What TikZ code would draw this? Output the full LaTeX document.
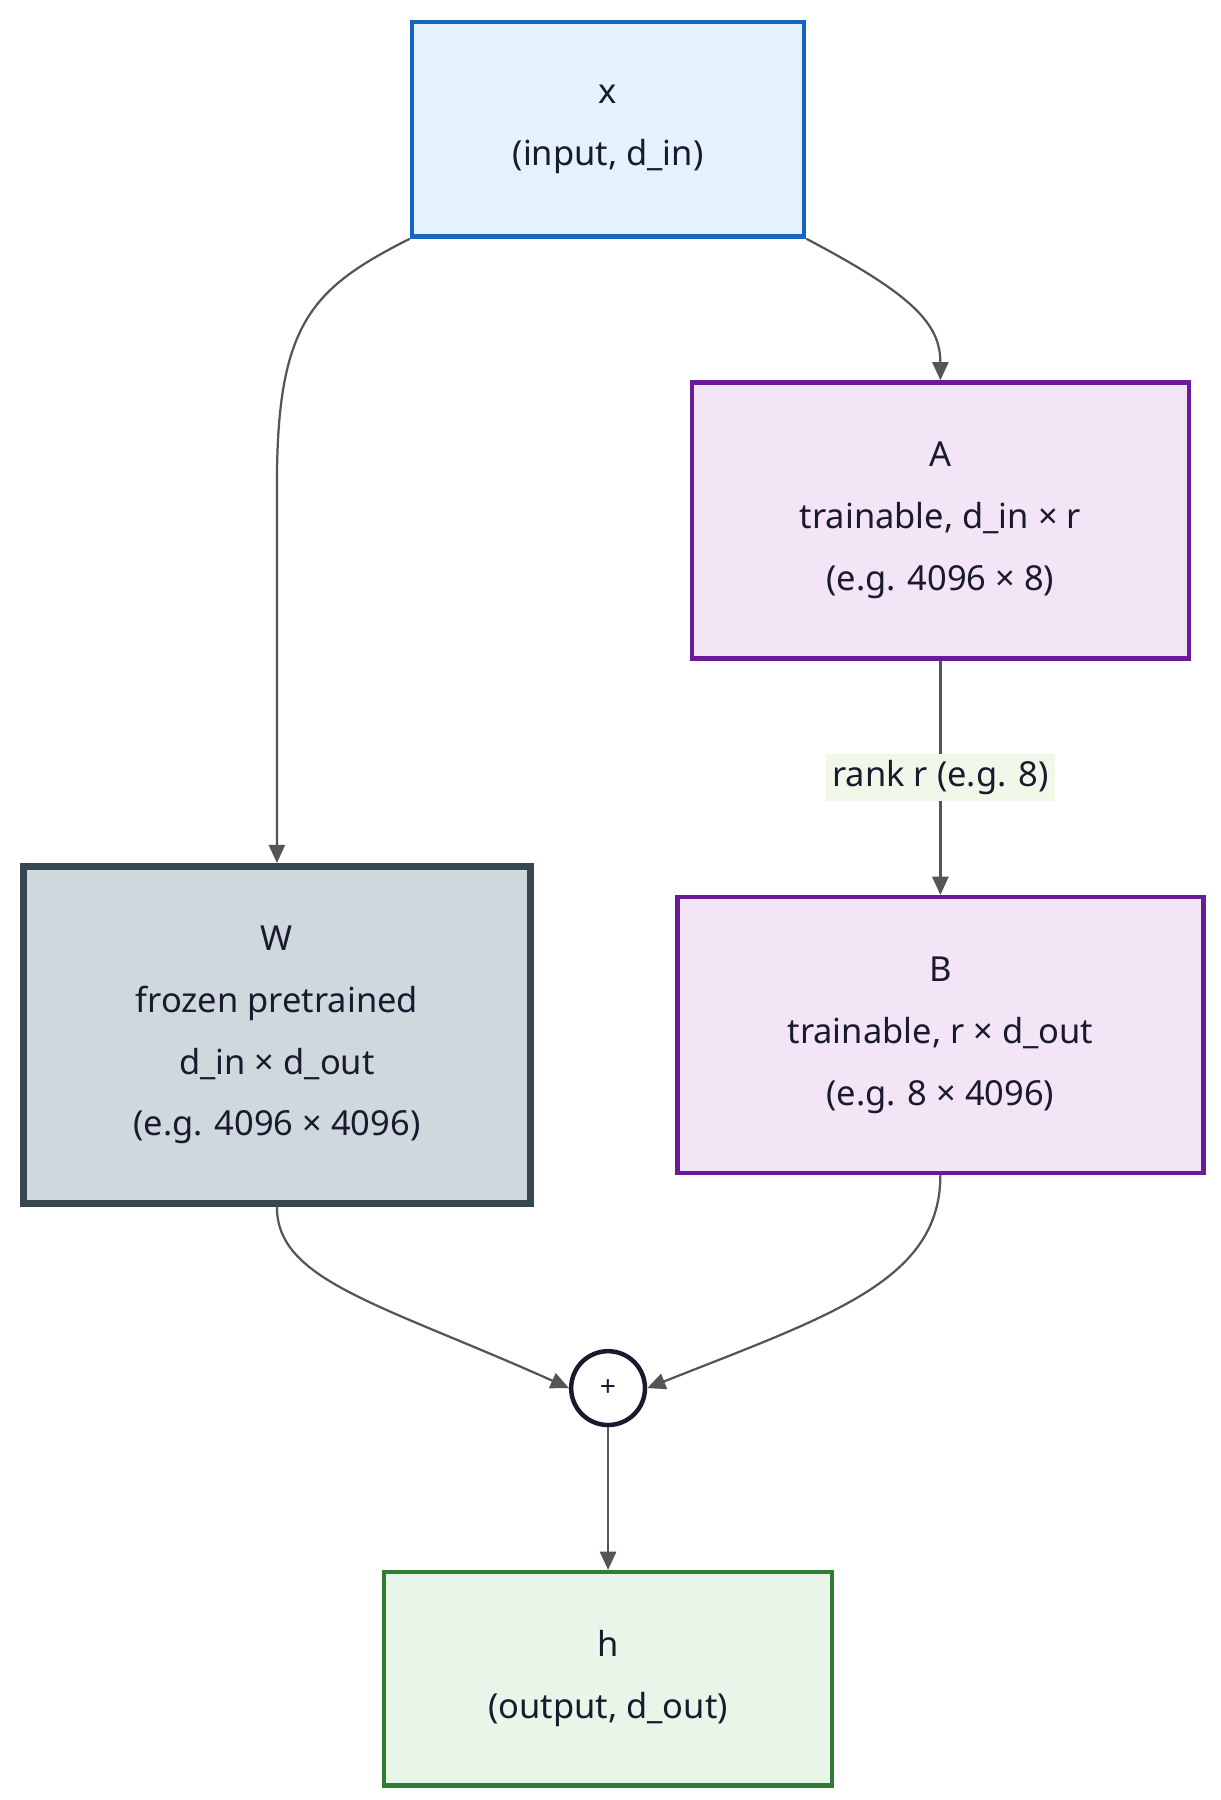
\documentclass[tikz,border=0pt]{standalone}
\usepackage{fontspec}
\setmainfont{Noto Sans}
\usetikzlibrary{arrows.meta}
\definecolor{xb}{HTML}{E3F2FD}\definecolor{xl}{HTML}{1565C0}
\definecolor{ab}{HTML}{F3E5F5}\definecolor{al}{HTML}{6A1B9A}
\definecolor{wb}{HTML}{CFD8DC}\definecolor{wl}{HTML}{37474F}
\definecolor{hb}{HTML}{E8F5E9}\definecolor{hl}{HTML}{2E7D32}
\definecolor{lb}{HTML}{F1F8E9}\definecolor{ed}{HTML}{555555}
\definecolor{tx}{HTML}{1A1A2E}
\begin{document}
\begin{tikzpicture}[x=0.02cm,y=-0.02cm,
 box/.style={draw,line width=2.2pt,align=center,text=tx,font=\fontsize{17}{30.5}\selectfont,inner sep=0pt},
 e/.style={draw=ed,line width=1.1pt,-{Triangle[length=9pt,width=8pt]}}]
\useasboundingbox (0,0) rectangle (1058,1560);
\node[box,fill=xb,draw=xl,minimum width=340*0.02cm,minimum height=186*0.02cm] (x) at (527,112) {\textbf{x}\\(input, d\_in)};
\node[box,fill=ab,draw=al,minimum width=431*0.02cm,minimum height=239*0.02cm] (A) at (815,451) {\textbf{A}\\trainable, d\_in × r\\(e.g. 4096 × 8)};
\node[box,fill=ab,draw=al,minimum width=456*0.02cm,minimum height=239*0.02cm] (B) at (815,897) {\textbf{B}\\trainable, r × d\_out\\(e.g. 8 × 4096)};
\node[box,fill=wb,draw=wl,line width=3.5pt,minimum width=439*0.02cm,minimum height=292*0.02cm] (W) at (240,897) {\textbf{W}\\frozen pretrained\\d\_in × d\_out\\(e.g. 4096 × 4096)};
\node[box,circle,fill=white,draw=tx,line width=2.2pt,minimum size=64*0.02cm,font=\fontsize{14}{16}\selectfont\bfseries] (p) at (527,1203) {+};
\node[box,fill=hb,draw=hl,minimum width=388*0.02cm,minimum height=185*0.02cm] (h) at (527,1455) {\textbf{h}\\(output, d\_out)};
\path[e] (x.south west) .. controls (270,250) and (240,280) .. (240,420) -- (W.north);
\path[e] (x.south east) .. controls (790,255) and (815,280) .. (A.north);
\path[e] (A) -- node[fill=lb,text=tx,font=\fontsize{17}{20}\selectfont,inner sep=3pt]{rank r (e.g. 8)} (B);
\path[e] (W.south) .. controls (240,1110) and (330,1130) .. (p.west);
\path[e] (B.south) .. controls (815,1110) and (720,1140) .. (p.east);
\path[e] (p) -- (h);
\end{tikzpicture}
\end{document}
